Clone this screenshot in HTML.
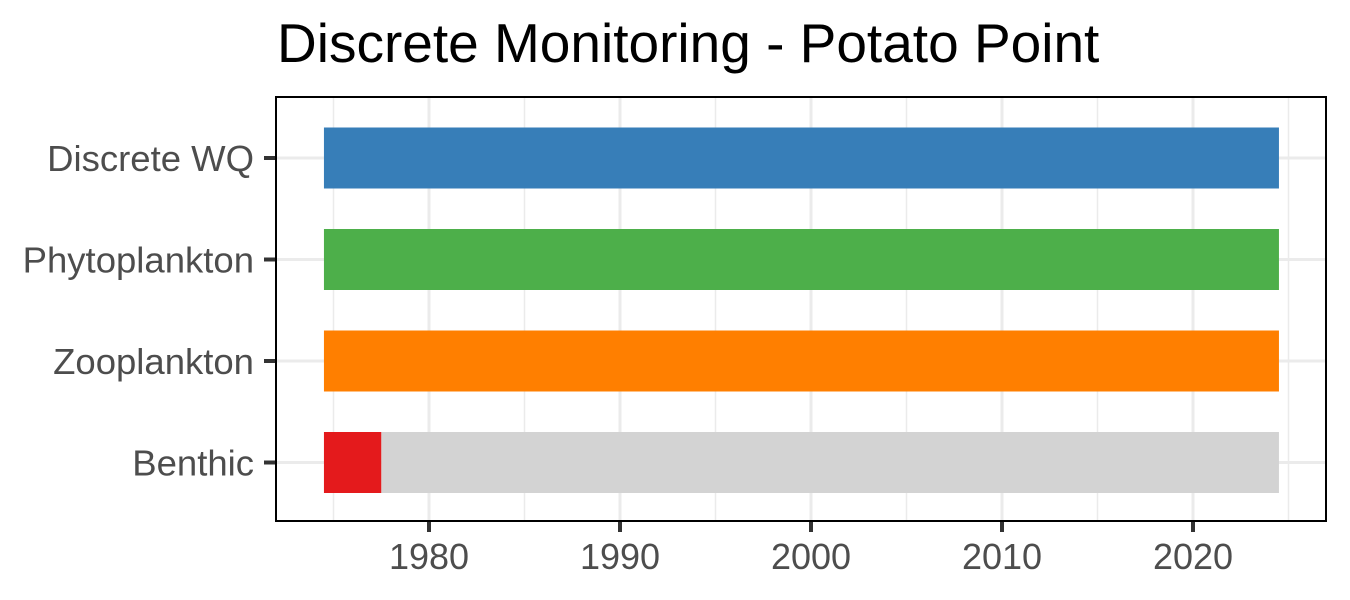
<!DOCTYPE html>
<html><head><meta charset="utf-8"><style>
html,body{margin:0;padding:0;background:#fff;}
svg{display:block;font-family:"Liberation Sans",Arial,sans-serif;}
</style></head><body>
<svg id="chart" width="1350" height="600">
<text x="277" y="62" font-size="55" fill="#000">Discrete Monitoring - Potato Point</text>
<g id="grid"></g><g id="bars"></g><g id="axes"></g>
<rect x="276" y="97" width="1050" height="424" fill="none" stroke="#000" stroke-width="2"/>
</svg>
<script>
const categories = ["Discrete WQ","Phytoplankton","Zooplankton","Benthic"];
const colors = ["#377eb8","#4daf4a","#ff7f00","#d3d3d3"];
const barStart = [1974.5,1974.5,1974.5,1977.5];
const barEnd = [2024.5,2024.5,2024.5,2024.5];
const highlightStart = [null,null,null,1974.5];
const highlightEnd = [null,null,null,1977.5];
const xTicks = [1980,1990,2000,2010,2020];
const xMinor = [1975,1985,1995,2005,2015,2025];
const NS="http://www.w3.org/2000/svg";
const x = v => 429 + (v-1980)*19.1;
const y = i => 158 + i*101.5;
const bh = 61;
function mk(t,a,p){const e=document.createElementNS(NS,t);for(const k in a)e.setAttribute(k,a[k]);p.appendChild(e);return e;}
const grid=document.getElementById('grid'),bars=document.getElementById('bars'),axes=document.getElementById('axes');
xMinor.forEach(v=>{const l=mk('line',{x1:x(v),x2:x(v),y1:97,y2:521,stroke:'#ebebeb','stroke-width':1.5},grid);

});
xTicks.forEach(v=>{const l=mk('line',{x1:x(v),x2:x(v),y1:97,y2:521,stroke:'#ebebeb','stroke-width':3},grid);


const t=mk('line',{x1:x(v),x2:x(v),y1:521,y2:532,stroke:'#333','stroke-width':4},axes);


const tx=mk('text',{x:x(v),y:569,'font-size':36,fill:'#4d4d4d','text-anchor':'middle'},axes);tx.textContent=v;

});
categories.forEach((c,i)=>{const l=mk('line',{x1:276,x2:1326,y1:y(i),y2:y(i),stroke:'#ebebeb','stroke-width':3},grid);


const r=mk('rect',{x:x(barStart[i]),y:y(i)-bh/2,width:x(barEnd[i])-x(barStart[i]),height:bh,fill:colors[i]},bars);


if(highlightStart[i]!==null){const h=mk('rect',{x:x(highlightStart[i]),y:y(i)-bh/2,width:x(highlightEnd[i])-x(highlightStart[i]),height:bh,fill:'#e41a1c'},bars);

}
const t=mk('line',{x1:264,x2:276,y1:y(i),y2:y(i),stroke:'#333','stroke-width':4},axes);


const tx=mk('text',{x:254,y:y(i)+13,'font-size':36.5,fill:'#4d4d4d','text-anchor':'end'},axes);tx.textContent=c;

});
</script>
</body></html>
